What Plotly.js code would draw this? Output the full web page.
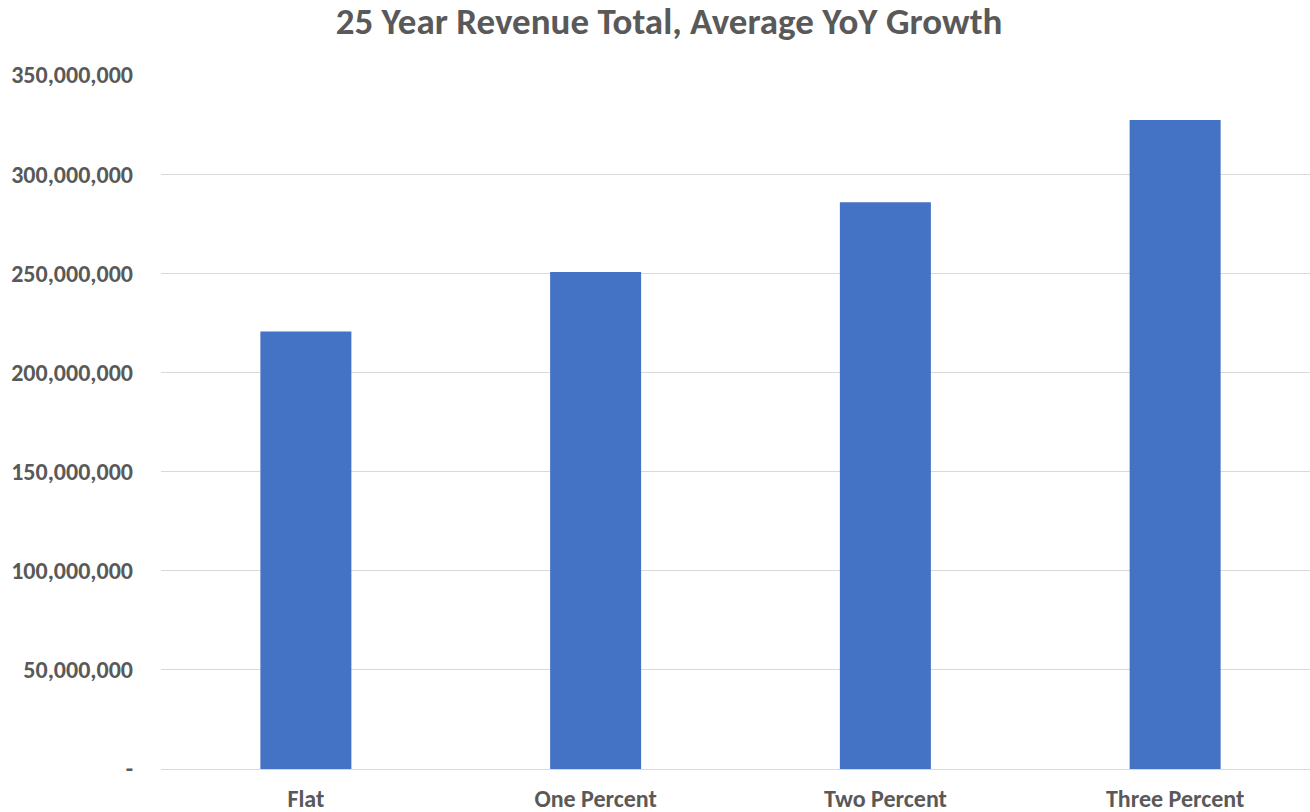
<!DOCTYPE html>
<html>
<head>
<meta charset="utf-8">
<script src="https://cdn.plot.ly/plotly-3.0.1.min.js"></script>
<style>
html,body{margin:0;padding:0;overflow:hidden;background:#fff;}
#chart{width:1321px;height:812px;}
</style>
</head>
<body>
<div id="chart"></div>
<script>
const categories = ["Flat", "One Percent", "Two Percent", "Three Percent"];
const revenue = [220700000, 250600000, 285800000, 327300000];
const yTickVals = [0, 50000000, 100000000, 150000000, 200000000, 250000000, 300000000, 350000000];
const yTickText = ["-", "50,000,000", "100,000,000", "150,000,000", "200,000,000", "250,000,000", "300,000,000", "350,000,000"];

const fontFam = "Carlito, 'Open Sans', 'Noto Sans', sans-serif";

Plotly.newPlot("chart", [{
  type: "bar",
  x: categories,
  y: revenue,
  marker: {color: "#4472C4", line: {width: 0}},
  hoverinfo: "x+y"
}], {
  width: 1321,
  height: 812,
  margin: {l: 161, r: 1, t: 75, b: 43, pad: 0},
  paper_bgcolor: "#ffffff",
  plot_bgcolor: "#ffffff",
  bargap: 0.686,
  showlegend: false,
  title: {
    text: "<b>25 Year Revenue Total, Average YoY Growth</b>",
    font: {family: fontFam, size: 37, color: "#595959"},
    x: 669 / 1321,
    xref: "container",
    xanchor: "center",
    y: 1 - 21 / 812,
    yref: "container",
    yanchor: "middle"
  },
  xaxis: {
    type: "category",
    showgrid: false,
    showline: true,
    linecolor: "#D9D9D9",
    linewidth: 1,
    ticks: "",
    tickfont: {family: fontFam, size: 24, color: "#595959", weight: "bold"},
    ticklabelstandoff: 8,
    fixedrange: true
  },
  yaxis: {
    range: [0, 350000000],
    tickvals: yTickVals,
    ticktext: yTickText,
    showgrid: true,
    gridcolor: "#D9D9D9",
    gridwidth: 1,
    zeroline: false,
    showline: false,
    ticks: "",
    tickfont: {family: fontFam, size: 24, color: "#595959", weight: "bold"},
    ticklabelstandoff: 27,
    fixedrange: true
  }
}, {displayModeBar: false, staticPlot: false});
</script>
</body>
</html>
